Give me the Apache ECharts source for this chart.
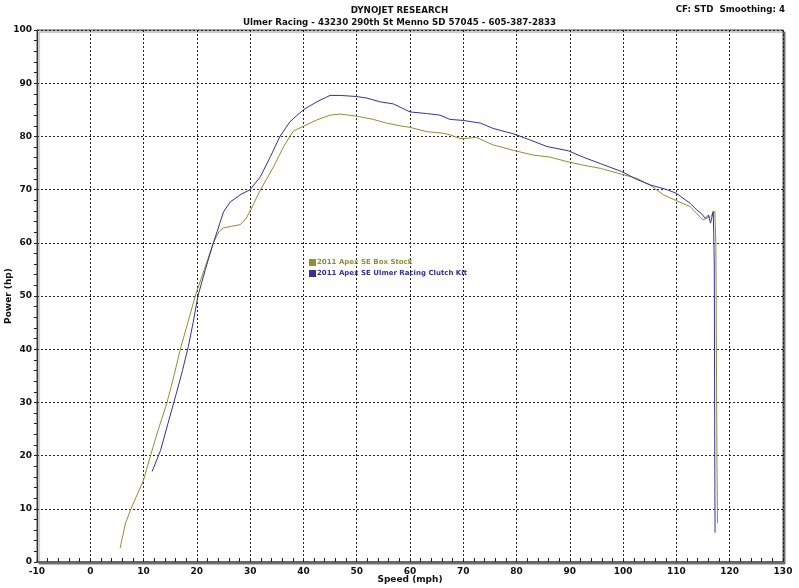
<!DOCTYPE html>
<html>
<head>
<meta charset="utf-8">
<script src="https://cdn.jsdelivr.net/npm/echarts@6/dist/echarts.min.js"></script>
<style>html,body{margin:0;padding:0;background:#fff;}#c{width:799px;height:588px;}</style>
</head>
<body>
<div id="c"></div>
<script>
var titleMain = 'DYNOJET RESEARCH';
var titleSub = 'Ulmer Racing - 43230 290th St Menno SD 57045 - 605-387-2833';
var cornerNote = 'CF: STD  Smoothing: 4';
var seriesNames = ['2011 Apex SE Box Stock', '2011 Apex SE Ulmer Racing Clutch Kit'];
var xTicks = [-10, 0, 10, 20, 30, 40, 50, 60, 70, 80, 90, 100, 110, 120, 130];
var yTicks = [0, 10, 20, 30, 40, 50, 60, 70, 80, 90, 100];

var stockSpeed = [5.6, 6.6, 7.8, 10, 11.3, 12.8, 14.4, 15.7, 16.9, 18.3, 19.7, 21.4, 23.1, 24.2, 25, 26.5, 28.1, 29.2, 30, 31.9, 34.4, 36.3, 38.1, 40, 42.5, 45, 46.9, 50, 53.1, 55.6, 58.1, 60, 63.1, 66.2, 67.5, 69.4, 70, 72.5, 75.6, 79.7, 83.1, 86.3, 89.7, 92.5, 95.7, 99.7, 102.6, 105, 107.6, 109.8, 112.6, 114.4, 115, 116.3, 117.2, 117.4, 117.5, 117.6, 117.7];
var stockPower = [2.6, 7.3, 10.4, 15.4, 20, 25, 30, 35, 40, 45, 50, 55, 60, 62.2, 62.8, 63.1, 63.4, 64.5, 66, 69.9, 74.3, 78.1, 81, 81.9, 83.1, 84, 84.2, 83.8, 83.2, 82.5, 82, 81.7, 80.9, 80.6, 80.3, 79.6, 79.6, 79.8, 78.4, 77.3, 76.5, 76.1, 75.2, 74.6, 74, 72.9, 72.1, 70.9, 69, 68, 66.8, 64.9, 64.3, 64.9, 65.9, 60, 40, 20, 7.3];

var clutchSpeed = [11.6, 13.2, 14.7, 16.1, 17.3, 18.4, 19.3, 20.2, 21.6, 23.1, 23.8, 25, 26.3, 28.1, 30, 31.9, 33.8, 35.6, 37.5, 40, 42.5, 45, 46.9, 50, 51.9, 54.4, 56.9, 60, 63.1, 65.6, 67.5, 70, 73.2, 75.6, 79.7, 82.6, 85.7, 89.7, 92.5, 95.7, 99.7, 102.6, 105, 108.2, 110, 112.6, 113.8, 114.7, 115.4, 116, 116.4, 116.9, 117, 117.1, 117.15, 117.2, 117.25];
var clutchPower = [17, 21, 26.5, 31.5, 36, 40.5, 45, 50, 55, 60, 62.1, 65.8, 67.7, 69, 70, 72.4, 76.2, 80, 82.8, 85, 86.5, 87.7, 87.7, 87.5, 87.2, 86.5, 86.1, 84.6, 84.3, 84, 83.2, 83, 82.5, 81.5, 80.4, 79.3, 78.1, 77.3, 76.1, 74.9, 73.4, 71.9, 70.9, 70, 69.3, 67.4, 66.2, 65.5, 64.6, 65.2, 63.7, 65.9, 61.8, 56.4, 40, 20, 5.5];

function pairs(xs, ys) { var out = []; for (var i = 0; i < xs.length; i++) out.push([xs[i], ys[i]]); return out; }

var colors = ['#8f8f34', '#32329a'];
var font = 'DejaVu Sans';
var chart = echarts.init(document.getElementById('c'), null, {renderer: 'canvas'});
chart.setOption({
  animation: false,
  backgroundColor: '#ffffff',
  title: [
    {text: titleMain, left: 'center', top: 1, textStyle: {fontFamily: font, fontSize: 8.7, fontWeight: 'bold', color: '#111'}},
    {text: titleSub, left: 'center', top: 13, textStyle: {fontFamily: font, fontSize: 8.7, fontWeight: 'bold', color: '#111'}},
    {text: cornerNote, right: 9, top: 0, textStyle: {fontFamily: font, fontSize: 8.7, fontWeight: 'bold', color: '#111'}}
  ],
  legend: {
    orient: 'vertical', left: 304, top: 254, itemWidth: 7, itemHeight: 7, itemGap: 4,
    icon: 'rect',
    data: [
      {name: seriesNames[0], textStyle: {color: colors[0]}},
      {name: seriesNames[1], textStyle: {color: colors[1]}}
    ],
    textStyle: {fontFamily: font, fontSize: 7, fontWeight: 'bold', padding: [0, 0, 0, -4]}
  },
  grid: {left: 37, right: 16, top: 30, bottom: 26, outerBoundsMode: 'none', containLabel: false,
         show: true, borderColor: '#444', borderWidth: 1,
         backgroundColor: '#fff', shadowColor: 'rgba(0,0,0,0.45)', shadowOffsetX: 2, shadowOffsetY: 2, shadowBlur: 1},
  xAxis: {
    type: 'value', min: -10, max: 130, interval: 10,
    name: 'Speed (mph)', nameLocation: 'middle', nameGap: 13, nameMoveOverlap: false,
    nameTextStyle: {fontFamily: font, fontSize: 9, fontWeight: 'bold', color: '#111'},
    axisLine: {show: true, onZero: false, lineStyle: {color: '#666', width: 2}},
    axisTick: {show: true, inside: true, length: 4, lineStyle: {color: '#222'}},
    minorTick: {show: true, splitNumber: 5, length: 4, lineStyle: {color: '#222'}},
    axisLabel: {fontFamily: font, fontSize: 9, fontWeight: 'bold', color: '#111', margin: 5,
                formatter: function (v) { return xTicks.indexOf(v) >= 0 ? String(v) : ''; }},
    splitLine: {show: true, lineStyle: {color: '#222', type: [2, 2], width: 1}}
  },
  yAxis: {
    type: 'value', min: 0, max: 100, interval: 10,
    name: 'Power (hp)', nameLocation: 'middle', nameGap: 24, nameMoveOverlap: false,
    nameTextStyle: {fontFamily: font, fontSize: 9, fontWeight: 'bold', color: '#111'},
    axisLine: {show: true, onZero: false, lineStyle: {color: '#333', width: 1}},
    axisTick: {show: true, inside: false, length: 3, lineStyle: {color: '#222'}},
    minorTick: {show: true, splitNumber: 5, length: 3, lineStyle: {color: '#222'}},
    axisLabel: {fontFamily: font, fontSize: 9, fontWeight: 'bold', color: '#111', margin: 5,
                formatter: function (v) { return yTicks.indexOf(v) >= 0 ? String(v) : ''; }},
    splitLine: {show: true, lineStyle: {color: '#222', type: [2, 2], width: 1}}
  },
  series: [
    {name: seriesNames[0], type: 'line', data: pairs(stockSpeed, stockPower), showSymbol: false, symbol: 'none',
     itemStyle: {color: colors[0]}, lineStyle: {color: colors[0], width: 1}},
    {name: seriesNames[1], type: 'line', data: pairs(clutchSpeed, clutchPower), showSymbol: false, symbol: 'none',
     itemStyle: {color: colors[1]}, lineStyle: {color: colors[1], width: 1}}
  ]
});
</script>
</body>
</html>
